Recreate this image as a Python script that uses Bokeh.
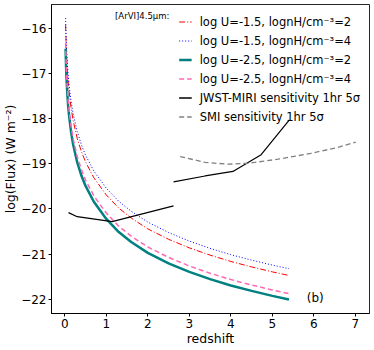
from bokeh.plotting import figure
from bokeh.models import Range1d, FixedTicker, Legend, LegendItem, Label
from bokeh.embed import file_html
from bokeh.resources import INLINE

# ---- data ----
z_model = [0.02, 0.03, 0.04, 0.06, 0.08, 0.1, 0.15, 0.2, 0.3, 0.4, 0.5, 0.7,
           1.0, 1.3, 1.6, 2.0, 2.5, 3.0, 3.5, 4.0, 4.5, 5.0, 5.4]
flux_u15_n2 = [-15.93, -16.29, -16.55, -16.91, -17.18, -17.38, -17.76, -18.04, -18.44, -18.73, -18.96, -19.31,
               -19.69, -19.98, -20.20, -20.44, -20.67, -20.86, -21.02, -21.16, -21.28, -21.39, -21.47]
flux_u15_n4 = [-15.78, -16.14, -16.40, -16.76, -17.03, -17.23, -17.61, -17.89, -18.29, -18.58, -18.81, -19.16,
               -19.54, -19.83, -20.05, -20.29, -20.52, -20.71, -20.87, -21.01, -21.13, -21.24, -21.32]
flux_u25_n2 = [-16.46, -16.82, -17.08, -17.44, -17.71, -17.91, -18.29, -18.57, -18.97, -19.26, -19.49, -19.84,
               -20.22, -20.51, -20.73, -20.97, -21.20, -21.39, -21.55, -21.69, -21.81, -21.92, -22.00]
flux_u25_n4 = [-16.33, -16.69, -16.95, -17.31, -17.58, -17.78, -18.16, -18.44, -18.84, -19.13, -19.36, -19.71,
               -20.09, -20.38, -20.60, -20.84, -21.07, -21.26, -21.42, -21.56, -21.68, -21.79, -21.87]

jwst_z_low = [0.09, 0.30, 1.14, 2.62]
jwst_f_low = [-20.08, -20.17, -20.28, -19.93]
jwst_z_high = [2.62, 3.38, 4.05, 4.73, 5.41]
jwst_f_high = [-19.40, -19.27, -19.17, -18.80, -18.03]

smi_z = [2.78, 3.38, 3.94, 4.41, 5.13, 5.93, 6.57, 7.01]
smi_f = [-18.84, -18.97, -19.01, -18.99, -18.90, -18.77, -18.64, -18.52]

x_ticks = [0, 1, 2, 3, 4, 5, 6, 7]
x_tick_labels = ["0", "1", "2", "3", "4", "5", "6", "7"]
y_ticks = [-22, -21, -20, -19, -18, -17, -16]
y_tick_labels = ["\u221222", "\u221221", "\u221220", "\u221219", "\u221218", "\u221217", "\u221216"]

labels = [
    "log U=-1.5, lognH/cm\u207b\u00b3=2",
    "log U=-1.5, lognH/cm\u207b\u00b3=4",
    "log U=-2.5, lognH/cm\u207b\u00b3=2",
    "log U=-2.5, lognH/cm\u207b\u00b3=4",
    "JWST-MIRI sensitivity 1hr 5\u03c3",
    "SMI sensitivity 1hr 5\u03c3",
]

FONT = "DejaVu Sans"

p = figure(width=372, height=348, output_backend="svg", toolbar_location=None,
           x_range=Range1d(-0.32, 7.34), y_range=Range1d(-22.31, -15.48),
           min_border_left=49, min_border_right=3, min_border_top=4, min_border_bottom=0)

p.xgrid.visible = False
p.ygrid.visible = False
p.outline_line_color = "black"
p.outline_line_alpha = 0.85

for ax in (p.xaxis[0], p.yaxis[0]):
    ax.major_label_text_font = FONT
    ax.major_label_text_font_size = "12px"
    ax.major_label_text_color = "black"
    ax.axis_label_text_font = FONT
    ax.axis_label_text_font_size = "12.5px"
    ax.axis_label_text_font_style = "normal"
    ax.axis_label_text_color = "black"
    ax.major_tick_in = 0
    ax.major_tick_out = 3
    ax.minor_tick_in = 0
    ax.minor_tick_out = 0
    ax.major_label_standoff = 2
    ax.axis_label_standoff = 0
    ax.axis_line_color = "black"

p.xaxis.ticker = FixedTicker(ticks=x_ticks)
p.xaxis.major_label_overrides = {t: l for t, l in zip(x_ticks, x_tick_labels)}
p.yaxis.ticker = FixedTicker(ticks=y_ticks)
p.yaxis.major_label_overrides = {t: l for t, l in zip(y_ticks, y_tick_labels)}
p.xaxis.axis_label = "redshift"
p.yaxis.axis_label = "log(Flux) (W m\u207b\u00b2)"

r1 = p.line(z_model, flux_u15_n2, line_color="red", line_width=1, line_dash="6 2 1 2")
r2 = p.line(z_model, flux_u15_n4, line_color="blue", line_width=1, line_dash="1 2")
r3 = p.line(z_model, flux_u25_n2, line_color="teal", line_width=2.5)
r4 = p.line(z_model, flux_u25_n4, line_color="hotpink", line_width=1.5, line_dash="5 3")
r5a = p.line(jwst_z_low, jwst_f_low, line_color="black", line_width=1.2)
r5b = p.line(jwst_z_high, jwst_f_high, line_color="black", line_width=1.2)
r6 = p.line(smi_z, smi_f, line_color="grey", line_width=1.3, line_dash="5 3")

items = [
    LegendItem(label=labels[0], renderers=[r1]),
    LegendItem(label=labels[1], renderers=[r2]),
    LegendItem(label=labels[2], renderers=[r3]),
    LegendItem(label=labels[3], renderers=[r4]),
    LegendItem(label=labels[4], renderers=[r5a, r5b]),
    LegendItem(label=labels[5], renderers=[r6]),
]
legend = Legend(items=items, location="top_right", padding=9, margin=0, spacing=2,
                glyph_width=13, glyph_height=17, label_height=17, label_standoff=8,
                border_line_alpha=0, background_fill_alpha=0,
                label_text_font=FONT, label_text_font_size="11.5px", label_text_color="black")
p.add_layout(legend)

p.add_layout(Label(x=1.21, y=-15.74, text="[ArVI]4.5\u03bcm:", text_font=FONT,
                   text_font_size="8.5px", text_baseline="middle", text_color="black"))
p.add_layout(Label(x=5.83, y=-21.96, text="(b)", text_font=FONT,
                   text_font_size="12px", text_baseline="middle", text_color="black"))

open("out.html", "w").write(file_html(p, INLINE))
